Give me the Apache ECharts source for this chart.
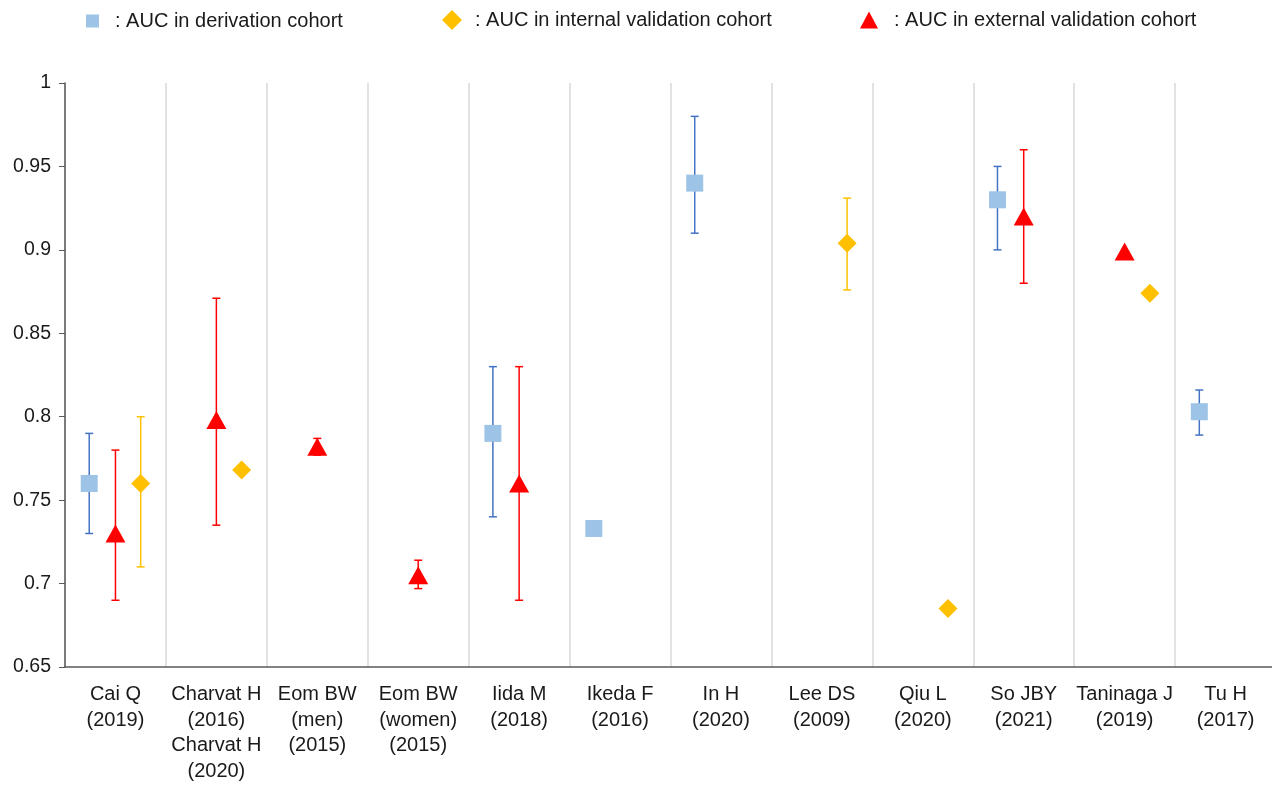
<!DOCTYPE html>
<html>
<head>
<meta charset="utf-8">
<script src="https://cdn.jsdelivr.net/npm/echarts@6/dist/echarts.min.js"></script>
<style>
  html, body { margin: 0; padding: 0; background: #fff; overflow: hidden; }
  #main { width: 1276px; height: 785px; }
</style>
</head>
<body>
<div id="main"></div>
<script>
// study labels (x axis)
var categories = [
  'Cai Q\n(2019)', 'Charvat H\n(2016)\nCharvat H\n(2020)', 'Eom BW\n(men)\n(2015)',
  'Eom BW\n(women)\n(2015)', 'Iida M\n(2018)', 'Ikeda F\n(2016)', 'In H\n(2020)',
  'Lee DS\n(2009)', 'Qiu L\n(2020)', 'So JBY\n(2021)', 'Taninaga J\n(2019)', 'Tu H\n(2017)'
];

// AUC in derivation cohort
var derivAuc  = [0.76, null, null, null, 0.79, 0.733, 0.94, null, null, 0.93, null, 0.803];
var derivLow  = [0.73, null, null, null, 0.74, null, 0.91, null, null, 0.90, null, 0.789];
var derivHigh = [0.79, null, null, null, 0.83, null, 0.98, null, null, 0.95, null, 0.816];

// AUC in internal validation cohort
var internalAuc  = [0.76, 0.768, null, null, null, null, null, 0.904, 0.685, null, 0.874, null];
var internalLow  = [0.71, null, null, null, null, null, null, 0.876, null, null, null, null];
var internalHigh = [0.80, null, null, null, null, null, null, 0.931, null, null, null, null];

// AUC in external validation cohort
var externalAuc  = [0.73, 0.798, 0.782, 0.705, 0.76, null, null, null, null, 0.92, 0.899, null];
var externalLow  = [0.69, 0.735, 0.777, 0.697, 0.69, null, null, null, null, 0.88, null, null];
var externalHigh = [0.78, 0.871, 0.787, 0.714, 0.83, null, null, null, null, 0.96, null, null];

var yTicks = { min: 0.65, max: 1, interval: 0.05 };

// position inside each category
var OFF_DERIV = -0.26, OFF_EXT = 0, OFF_INT = 0.25;

function points(vals, off) {
  var out = [];
  for (var i = 0; i < vals.length; i++) {
    if (vals[i] != null) out.push([i + 0.5 + off, vals[i]]);
  }
  return out;
}
function bars(low, high, off) {
  var out = [];
  for (var i = 0; i < low.length; i++) {
    if (low[i] != null) out.push([i + 0.5 + off, low[i], high[i]]);
  }
  return out;
}

function errorBar(color) {
  return function (params, api) {
    var lo = api.coord([api.value(0), api.value(1)]);
    var hi = api.coord([api.value(0), api.value(2)]);
    var w = 4;
    var st = { stroke: color, lineWidth: 1.5 };
    return {
      type: 'group',
      children: [
        { type: 'line', shape: { x1: lo[0], y1: lo[1], x2: hi[0], y2: hi[1] }, style: st },
        { type: 'line', shape: { x1: lo[0] - w, y1: lo[1], x2: lo[0] + w, y2: lo[1] }, style: st },
        { type: 'line', shape: { x1: hi[0] - w, y1: hi[1], x2: hi[0] + w, y2: hi[1] }, style: st }
      ]
    };
  };
}

var font = 'Liberation Sans, Arial, sans-serif';
var legendText = { fontFamily: font, fontSize: 20, color: '#1a1a1a' };

var chart = echarts.init(document.getElementById('main'));
chart.setOption({
  animation: false,
  legend: [
    { left: 81, top: 6, itemWidth: 13, itemHeight: 13, icon: 'rect',
      data: ['AUC in derivation cohort'], formatter: ': {name}',
      textStyle: Object.assign({ padding: [0, 0, 0, 11] }, legendText) },
    { left: 437, top: 5, itemWidth: 20, itemHeight: 20, icon: 'diamond',
      data: ['AUC in internal validation cohort'], formatter: ': {name}',
      textStyle: Object.assign({ padding: [0, 0, 0, 8] }, legendText) },
    { left: 855, top: 5, itemWidth: 18, itemHeight: 17, icon: 'triangle',
      data: ['AUC in external validation cohort'], formatter: ': {name}',
      textStyle: Object.assign({ padding: [0, 0, 0, 11] }, legendText) }
  ],
  grid: { left: 65, top: 83, right: 0, height: 584 },
  xAxis: [
    { type: 'value', min: 0, max: 12, show: false },
    {
      type: 'category', position: 'bottom', data: categories, boundaryGap: true,
      axisLine: { lineStyle: { color: '#595959', width: 1.5 } },
      axisTick: { show: false },
      axisLabel: { fontFamily: font, fontSize: 20, color: '#1a1a1a', lineHeight: 25.5, margin: 15, interval: 0 },
      splitLine: { show: true, lineStyle: { color: '#d9d9d9', width: 1.5 } }
    }
  ],
  yAxis: {
    type: 'value', min: yTicks.min, max: yTicks.max, interval: yTicks.interval,
    axisLine: { show: true, lineStyle: { color: '#595959', width: 1.5 } },
    axisTick: { show: true, length: 6, lineStyle: { color: '#595959' } },
    axisLabel: { fontFamily: font, fontSize: 19.5, color: '#1a1a1a', margin: 14 },
    splitLine: { show: false }
  },
  series: [
    { name: 'err-deriv', type: 'custom', xAxisIndex: 0, renderItem: errorBar('#4472c4'),
      data: bars(derivLow, derivHigh, OFF_DERIV), z: 1, silent: true },
    { name: 'err-int', type: 'custom', xAxisIndex: 0, renderItem: errorBar('#ffc000'),
      data: bars(internalLow, internalHigh, OFF_INT), z: 1, silent: true },
    { name: 'err-ext', type: 'custom', xAxisIndex: 0, renderItem: errorBar('#ff0000'),
      data: bars(externalLow, externalHigh, OFF_EXT), z: 1, silent: true },
    { name: 'AUC in derivation cohort', type: 'scatter', xAxisIndex: 0, symbol: 'rect',
      symbolSize: 17, itemStyle: { color: '#9dc3e6', opacity: 1 },
      data: points(derivAuc, OFF_DERIV), z: 3 },
    { name: 'AUC in internal validation cohort', type: 'scatter', xAxisIndex: 0, symbol: 'diamond',
      symbolSize: [19, 19], itemStyle: { color: '#ffc000', opacity: 1 },
      data: points(internalAuc, OFF_INT), z: 3 },
    { name: 'AUC in external validation cohort', type: 'scatter', xAxisIndex: 0, symbol: 'triangle',
      symbolSize: [20, 18], itemStyle: { color: '#ff0000', opacity: 1 },
      data: points(externalAuc, OFF_EXT), z: 3 }
  ]
});
</script>
</body>
</html>
